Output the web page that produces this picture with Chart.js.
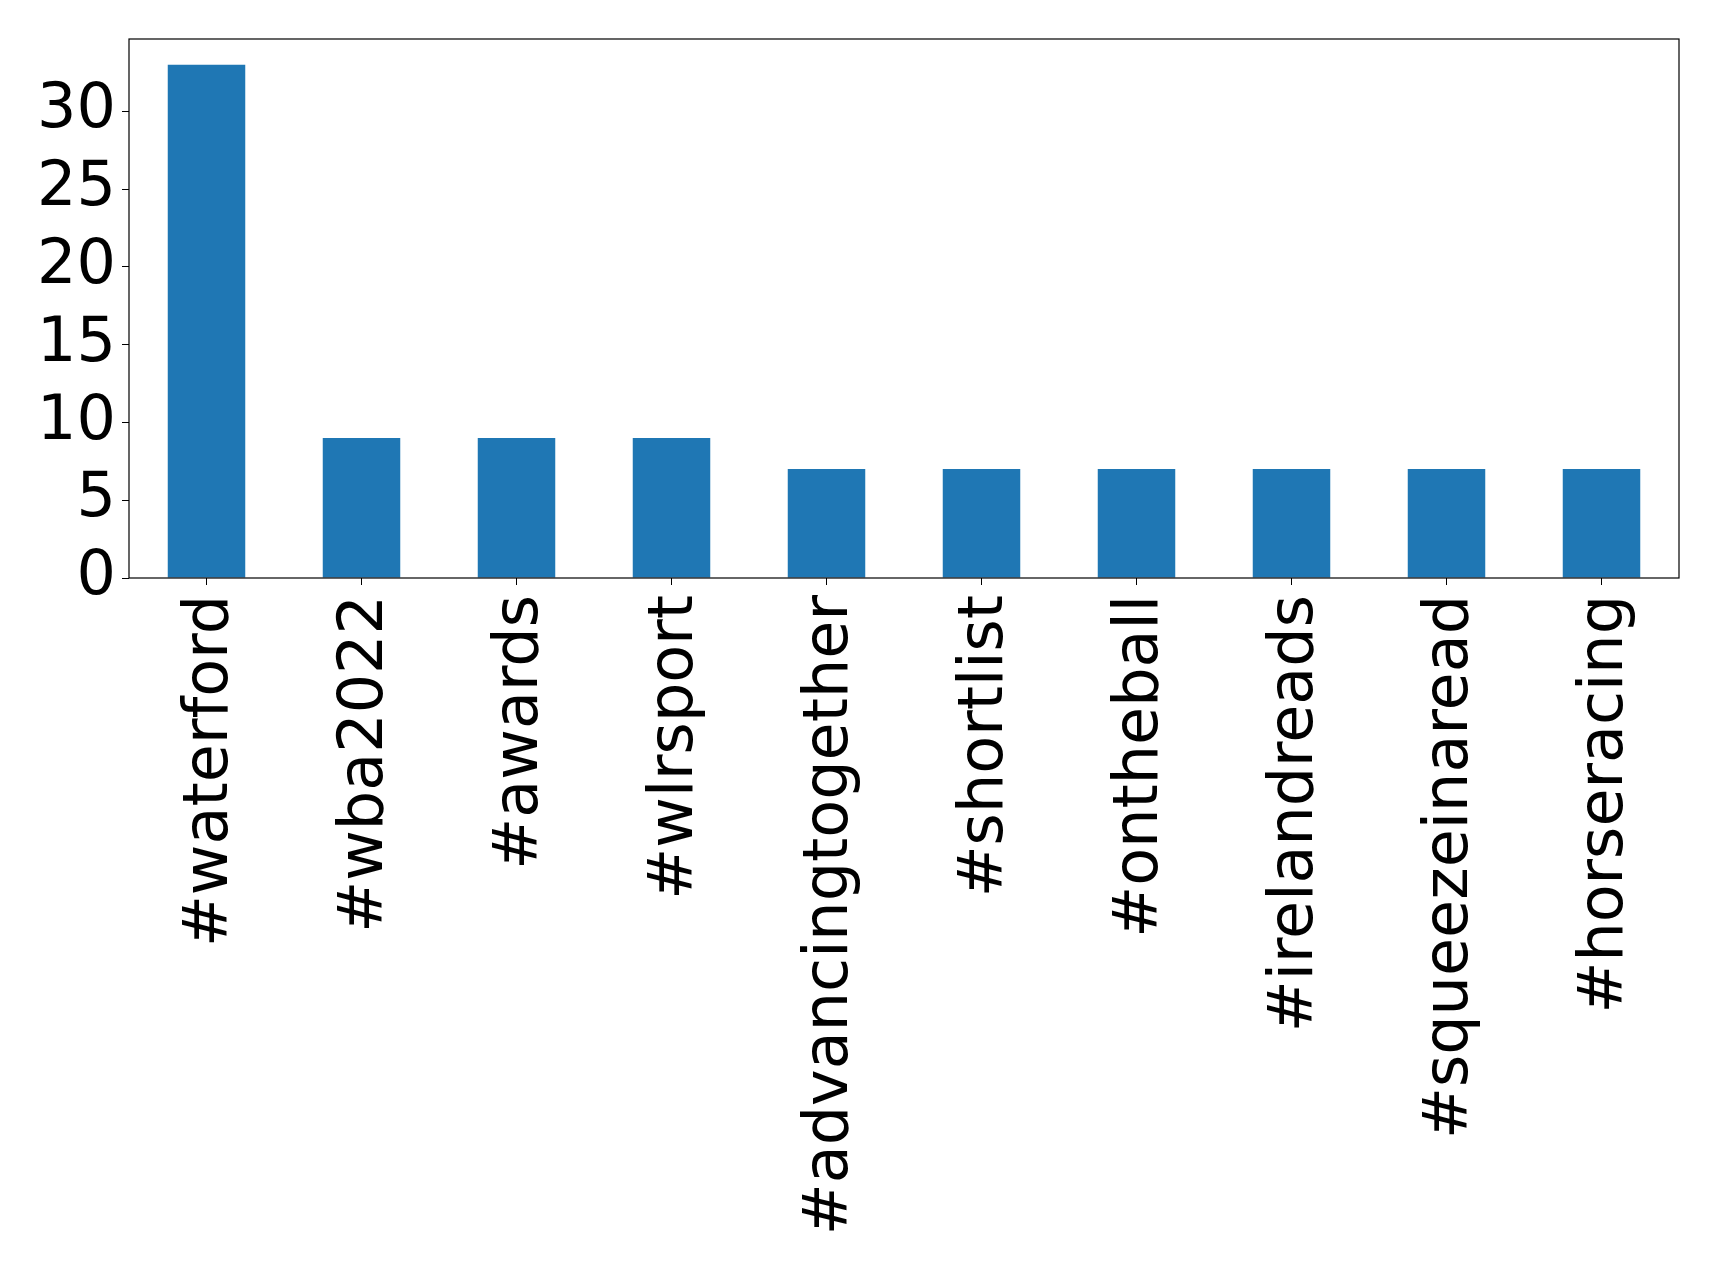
<!DOCTYPE html>
<html>
<head>
<meta charset="utf-8">
<script src="https://cdn.jsdelivr.net/npm/chart.js@4"></script>
<style>
  html, body { margin: 0; padding: 0; background: #fff; }
  #wrap { width: 1719px; height: 1273px; }
</style>
</head>
<body>
<div id="wrap"><canvas id="hashtags"></canvas></div>
<script>
var hashtags = ['#waterford', '#wba2022', '#awards', '#wlrsport', '#advancingtogether',
                '#shortlist', '#ontheball', '#irelandreads', '#squeezeinaread', '#horseracing'];
var counts = [33, 9, 9, 9, 7, 7, 7, 7, 7, 7];
var yTicks = [0, 5, 10, 15, 20, 25, 30];

// draws the box round the plot, like matplotlib does
var frame = {
    id: 'frame',
    afterDraw: function(chart) {
        var a = chart.chartArea, c = chart.ctx;
        c.save();
        c.strokeStyle = '#000';
        c.lineWidth = 1.2;
        c.strokeRect(a.left, a.top, a.right - a.left, a.bottom - a.top);
        c.restore();
    }
};

document.addEventListener('DOMContentLoaded', function() {
    var ctx = document.getElementById('hashtags').getContext('2d');
    new Chart(ctx, {
        type: 'bar',
        data: {
            labels: hashtags,
            datasets: [{
                data: counts,
                backgroundColor: '#1f77b4',
                borderWidth: 0,
                barPercentage: 0.5,
                categoryPercentage: 1.0
            }]
        },
        options: {
            responsive: true,
            maintainAspectRatio: false,
            animation: false,
            layout: { padding: { top: 39, right: 40, left: 0, bottom: 0 } },
            plugins: {
                legend: { display: false },
                tooltip: { enabled: false }
            },
            scales: {
                x: {
                    offset: true,
                    grid: { drawOnChartArea: false, tickLength: 7, tickColor: '#000', offset: false },
                    border: { display: false },
                    ticks: {
                        color: '#000',
                        font: { family: 'DejaVu Sans', size: 62 },
                        minRotation: 90,
                        maxRotation: 90,
                        padding: 10,
                        labelOffset: 4,
                        autoSkip: false
                    },
                    afterFit: function(scale) {
                        scale.height = 695;
                        scale.paddingLeft = 0;
                        scale.paddingRight = 0;
                    }
                },
                y: {
                    min: 0,
                    max: 34.65,
                    grid: { drawOnChartArea: false, tickLength: 7, tickColor: '#000' },
                    border: { display: false },
                    afterBuildTicks: function(scale) {
                        scale.ticks = yTicks.map(function(v) { return { value: v }; });
                    },
                    ticks: {
                        color: '#000',
                        font: { family: 'DejaVu Sans', size: 62 },
                        padding: 6
                    },
                    afterFit: function(scale) {
                        scale.width = 129;
                        scale.paddingTop = 0;
                        scale.paddingBottom = 0;
                    }
                }
            }
        },
        plugins: [frame]
    });
});
</script>
</body>
</html>
